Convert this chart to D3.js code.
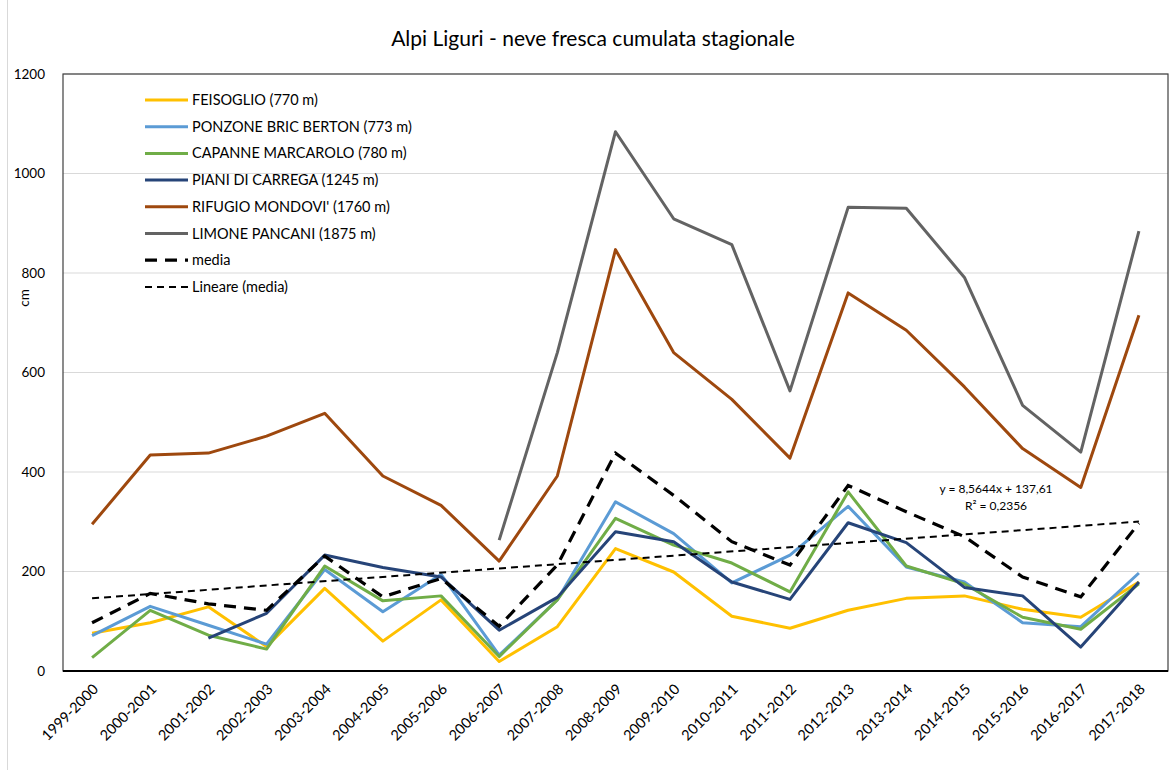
<!DOCTYPE html>
<html>
<head>
<meta charset="utf-8">
<script src="https://cdn.jsdelivr.net/npm/d3@7/dist/d3.min.js"></script>
<style>
  body { margin: 0; background: #fff; }
  svg { font-family: Lato, "Open Sans", sans-serif; }
</style>
</head>
<body>
<script>
// seasons on the x axis
var seasons = ["1999-2000","2000-2001","2001-2002","2002-2003","2003-2004","2004-2005","2005-2006",
  "2006-2007","2007-2008","2008-2009","2009-2010","2010-2011","2011-2012","2012-2013","2013-2014",
  "2014-2015","2015-2016","2016-2017","2017-2018"];

// values (cm), null = no data
var feisoglio = [76,97,129,49,166,60,143,19,89,246,199,110,86,122,146,151,124,108,179];
var ponzone   = [71,130,92,54,204,119,194,32,143,340,276,177,233,331,209,179,97,89,197];
var capanne   = [27,122,72,44,211,141,151,29,143,307,253,217,159,360,211,175,108,84,175];
var piani     = [null,null,66,116,233,208,189,82,148,280,260,179,144,298,258,168,151,48,179];
var mondovi   = [295,434,438,472,518,392,333,221,392,847,640,546,428,760,685,571,447,369,715];
var limone    = [null,null,null,null,null,null,null,263,640,1084,909,857,563,932,930,791,534,440,884];
var media     = [97,156,135,122,231,149,186,90,213,438,353,260,213,373,320,270,189,149,297];

// trend line from the chart's own equation label
var trendSlope = 8.5644, trendIntercept = 137.61;

var yTicks = [0,200,400,600,800,1000,1200];

var series = [
  {name: "FEISOGLIO (770 m)", values: feisoglio, color: "#ffc000"},
  {name: "PONZONE BRIC BERTON (773 m)", values: ponzone, color: "#5b9bd5"},
  {name: "CAPANNE MARCAROLO (780 m)", values: capanne, color: "#70ad47"},
  {name: "PIANI DI CARREGA (1245 m)", values: piani, color: "#264478"},
  {name: "RIFUGIO MONDOVI' (1760 m)", values: mondovi, color: "#9e480e"},
  {name: "LIMONE PANCANI (1875 m)", values: limone, color: "#636363"}
];

var W = 1169, H = 770;
var m = {left: 63, right: 1, top: 74, bottom: 99};

var svg = d3.select("body").append("svg")
  .attr("width", W)
  .attr("height", H);

// chart area edge on the left
svg.append("line")
  .attr("x1", 7.5).attr("x2", 7.5)
  .attr("y1", 0).attr("y2", H)
  .attr("stroke", "#d9d9d9");

var x = d3.scaleBand()
  .domain(seasons)
  .range([m.left, W - m.right]);

var y = d3.scaleLinear()
  .domain([0, 1200])
  .range([H - m.bottom, m.top]);

var cx = function(i) { return x(seasons[i]) + x.bandwidth() / 2; };

// gridlines
svg.append("g")
  .selectAll("line")
  .data(yTicks)
  .join("line")
  .attr("x1", m.left).attr("x2", W - m.right)
  .attr("y1", d => y(d)).attr("y2", d => y(d))
  .attr("stroke", "#d9d9d9")
  .attr("stroke-width", 1);

// y axis labels
var yAxis = svg.append("g")
  .attr("transform", "translate(" + m.left + ",0)")
  .call(d3.axisLeft(y).tickValues(yTicks).tickFormat(d3.format("d")).tickSize(0).tickPadding(18));
yAxis.select(".domain").remove();
yAxis.selectAll("text")
  .attr("font-size", 13.5)
  .attr("font-family", "Lato, sans-serif")
  .attr("fill", "#000");

svg.append("text")
  .attr("transform", "translate(29," + y(750) + ") rotate(-90)")
  .attr("text-anchor", "middle")
  .attr("font-size", 13.5)
  .text("cm");

// x axis labels
var xAxis = svg.append("g")
  .attr("transform", "translate(0," + (H - m.bottom) + ")")
  .call(d3.axisBottom(x).tickSize(0));
xAxis.select(".domain").remove();
xAxis.selectAll("text")
  .attr("font-size", 14.5)
  .attr("font-family", "Lato, sans-serif")
  .attr("fill", "#000")
  .attr("text-anchor", "end")
  .attr("dy", null)
  .attr("transform", "translate(5,17) rotate(-45)");

// plot frame
svg.append("rect")
  .attr("x", m.left).attr("y", m.top)
  .attr("width", W - m.right - m.left)
  .attr("height", H - m.bottom - m.top)
  .attr("fill", "none")
  .attr("stroke", "#404040")
  .attr("stroke-width", 1.2);
svg.append("line")
  .attr("x1", m.left).attr("x2", W - m.right)
  .attr("y1", y(0)).attr("y2", y(0))
  .attr("stroke", "#000")
  .attr("stroke-width", 2);

var line = d3.line()
  .defined(d => d != null)
  .x((d, i) => cx(i))
  .y(d => y(d));

// series lines
svg.append("g")
  .selectAll("path")
  .data(series)
  .join("path")
  .attr("d", d => line(d.values))
  .attr("fill", "none")
  .attr("stroke", d => d.color)
  .attr("stroke-width", 3)
  .attr("stroke-linejoin", "round");

// media
svg.append("path")
  .attr("d", line(media))
  .attr("fill", "none")
  .attr("stroke", "#000")
  .attr("stroke-width", 3.2)
  .attr("stroke-dasharray", "12,8");

// linear trend
var n = seasons.length;
svg.append("line")
  .attr("x1", cx(0)).attr("y1", y(trendSlope * 1 + trendIntercept))
  .attr("x2", cx(n - 1)).attr("y2", y(trendSlope * n + trendIntercept))
  .attr("stroke", "#000")
  .attr("stroke-width", 2)
  .attr("stroke-dasharray", "7,5");

svg.append("text")
  .attr("x", 996).attr("y", 493)
  .attr("text-anchor", "middle")
  .attr("font-size", 12)
  .text("y = 8,5644x + 137,61");
svg.append("text")
  .attr("x", 996).attr("y", 510)
  .attr("text-anchor", "middle")
  .attr("font-size", 12)
  .text("R\u00b2 = 0,2356");

// title
svg.append("text")
  .attr("x", 593).attr("y", 46)
  .attr("text-anchor", "middle")
  .attr("font-size", 21)
  .text("Alpi Liguri - neve fresca cumulata stagionale");

// legend
var legendItems = series.map(d => ({name: d.name, color: d.color, width: 3, dash: null}))
  .concat([
    {name: "media", color: "#000", width: 3.2, dash: "12,8"},
    {name: "Lineare (media)", color: "#000", width: 2, dash: "7,5"}
  ]);

var legend = svg.append("g")
  .selectAll("g")
  .data(legendItems)
  .join("g")
  .attr("transform", (d, i) => "translate(145," + (100 + i * 26.7) + ")");

legend.append("line")
  .attr("x1", 0).attr("x2", 43)
  .attr("stroke", d => d.color)
  .attr("stroke-width", d => d.width)
  .attr("stroke-dasharray", d => d.dash);

legend.append("text")
  .attr("x", 47).attr("y", 0)
  .attr("dy", "0.35em")
  .attr("font-size", 14.5)
  .text(d => d.name);
</script>
</body>
</html>
